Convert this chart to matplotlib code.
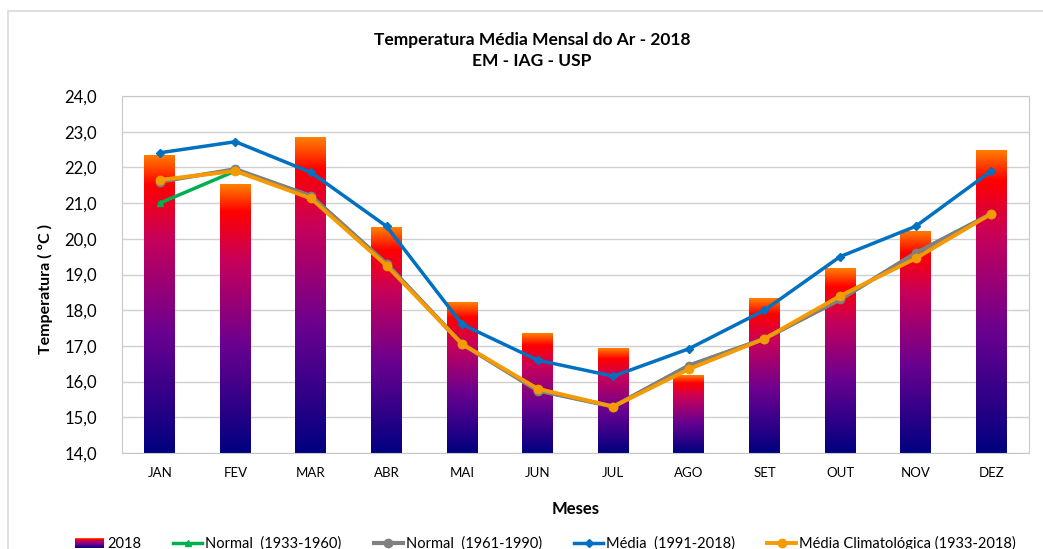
import numpy as np
import matplotlib
matplotlib.use("Agg")
import matplotlib.pyplot as plt
from matplotlib.colors import LinearSegmentedColormap
from matplotlib.patches import Rectangle
from matplotlib.lines import Line2D
from matplotlib.legend_handler import HandlerBase
from matplotlib.ticker import FuncFormatter

plt.rcParams['font.family'] = ['Lato', 'DejaVu Sans']

# --- data ---
meses = ["JAN", "FEV", "MAR", "ABR", "MAI", "JUN", "JUL", "AGO", "SET", "OUT", "NOV", "DEZ"]
t2018 = [22.35, 21.53, 22.85, 20.33, 18.23, 17.36, 16.94, 16.18, 18.34, 19.18, 20.22, 22.49]
normal_1933_1960 = [21.0, 21.9, 21.2, 19.3, 17.05, 15.75, 15.3, 16.45, 17.2, 18.3, 19.6, 20.7]
normal_1961_1990 = [21.6, 21.95, 21.2, 19.3, 17.05, 15.75, 15.3, 16.45, 17.2, 18.3, 19.6, 20.7]
media_1991_2018 = [22.41, 22.72, 21.86, 20.35, 17.6, 16.6, 16.15, 16.92, 18.0, 19.5, 20.35, 21.9]
media_clim = [21.65, 21.9, 21.13, 19.25, 17.05, 15.8, 15.3, 16.35, 17.2, 18.4, 19.45, 20.7]

# gradient used by the 2018 bars (bottom navy -> top orange)
grad = LinearSegmentedColormap.from_list("bar2018", [
    (0.0, "#000080"), (0.4, "#6A0090"), (0.72, "#C8005A"),
    (0.9, "#FF0000"), (1.0, "#FF8000")])

fig = plt.figure(figsize=(10.43, 5.49), dpi=100)
ax = fig.add_axes([0.117, 0.1749, 0.8696, 0.6502])

# outer chart border
fig.patches.append(Rectangle((8 / 1043, -0.05), 1.1, 1 - 11 / 549 + 0.05,
                             transform=fig.transFigure, fill=False,
                             edgecolor="#D9D9D9", lw=1.2))

x = np.arange(len(meses))
width = 0.41
ymin = 14.0

bars = ax.bar(x, np.array(t2018) - ymin, width, bottom=ymin, color="none", zorder=2)
g = np.linspace(0, 1, 256).reshape(-1, 1)
for bar in bars:
    x0 = bar.get_x()
    im = ax.imshow(g, cmap=grad, origin="lower", aspect="auto", interpolation="bilinear",
                   extent=[x0, x0 + bar.get_width(), ymin, ymin + bar.get_height()], zorder=2)
    im.set_clip_path(bar)

ax.plot(x, normal_1933_1960, color="#00B050", lw=2.5, marker="^", ms=5, zorder=3)
ax.plot(x, normal_1961_1990, color="#808080", lw=3, marker="o", ms=6, zorder=4)
ax.plot(x, media_1991_2018, color="#0070C0", lw=2.5, marker="D", ms=4, zorder=5)
ax.plot(x, media_clim, color="#F59A00", lw=2.8, marker="o", ms=6, zorder=6)

ax.set_xlim(-0.5, 11.5)
ax.set_ylim(14, 24)
ax.set_yticks(np.arange(14, 24.1, 1))
ax.yaxis.set_major_formatter(FuncFormatter(lambda v, p: f"{v:.1f}".replace(".", ",")))
ax.set_xticks(x)
ax.set_xticklabels(meses, fontsize=9.5)
ax.tick_params(axis="y", labelsize=12, length=0, pad=18)
ax.tick_params(axis="x", length=0, pad=10)
ax.grid(axis="y", color="#D0D0D0", lw=1, zorder=0)
ax.set_axisbelow(True)
for s in ax.spines.values():
    s.set_color("#C8C8C8")

ax.set_xlabel("Meses", fontsize=12, fontweight="bold", labelpad=16)
ax.set_ylabel("Temperatura ( ºC )", fontsize=11.5, fontweight="bold")
ax.yaxis.set_label_coords(-0.076, 0.46)
fig.text(0.51, 0.927, "Temperatura Média Mensal do Ar - 2018", ha="center", va="center",
         fontsize=12.5, fontweight="bold")
fig.text(0.51, 0.889, "EM - IAG - USP", ha="center", va="center",
         fontsize=12.5, fontweight="bold")


class GradHandler(HandlerBase):
    def create_artists(self, legend, orig, xd, yd, w, h, fontsize, trans):
        arts = []
        n = 12
        for i in range(n):
            r = Rectangle((xd, yd + h * i / n), w, h / n + 0.1,
                          facecolor=grad(0.1 + 0.85 * i / (n - 1)),
                          edgecolor="none", transform=trans)
            arts.append(r)
        return arts


handles = [
    Rectangle((0, 0), 1, 1),
    Line2D([], [], color="#00B050", lw=2.5, marker="^", ms=5),
    Line2D([], [], color="#808080", lw=3, marker="o", ms=6),
    Line2D([], [], color="#0070C0", lw=2.5, marker="D", ms=4),
    Line2D([], [], color="#F59A00", lw=2.8, marker="o", ms=6),
]
labels = ["2018", "Normal  (1933-1960)", "Normal  (1961-1990)", "Média  (1991-2018)",
          "Média Climatológica (1933-2018)"]
fig.legend(handles, labels, handler_map={Rectangle: GradHandler()}, loc="center",
           bbox_to_anchor=(0.523, 0.01), ncol=5, frameon=False, fontsize=10.5,
           handlelength=2.0, handletextpad=0.2, columnspacing=2.2)

fig.savefig("out.png", dpi=100)
